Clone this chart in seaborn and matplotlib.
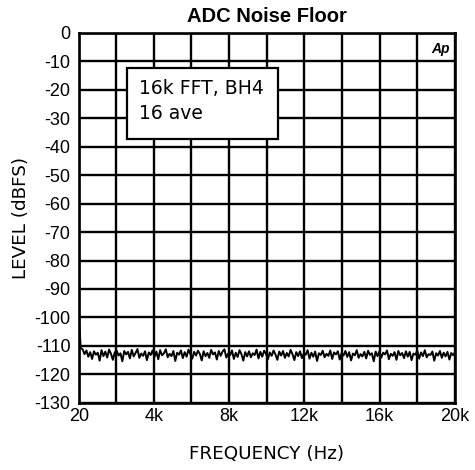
import numpy as np
import pandas as pd
import seaborn as sns
import matplotlib.pyplot as plt
from matplotlib.ticker import FixedLocator
from matplotlib.patches import Rectangle

levels = [
    -100.0, -110.8, -111.2, -112.9, -111.6, -113.8, -112.2, -114.6, -111.9, -113.1,
    -112.4, -115.2, -111.5, -113.6, -112.0, -114.1, -111.3, -112.8, -114.9, -112.3,
    -111.7, -113.4, -112.6, -115.4, -111.8, -113.0, -112.1, -114.4, -111.4, -113.7,
    -112.5, -111.1, -114.2, -112.7, -113.5, -111.9, -115.0, -112.3, -113.2, -111.6,
    -113.9, -112.0, -114.7, -111.5, -113.3, -112.6, -111.2, -114.0, -112.8, -113.6,
    -111.8, -115.3, -112.4, -113.1, -111.6, -114.3, -112.2, -113.8, -111.3, -112.9,
    -114.5, -112.1, -113.4, -111.7, -112.8, -115.1, -111.9, -113.6, -112.5, -114.2,
    -111.4, -113.0, -112.3, -114.8, -111.8, -113.5, -112.0, -111.2, -114.1, -112.7,
    -113.3, -111.6, -114.6, -112.4, -113.9, -111.5, -112.9, -115.2, -112.2, -113.7,
    -111.9, -114.0, -112.6, -113.2, -111.3, -114.4, -112.1, -113.8, -111.7, -112.8,
    -114.7, -112.3, -113.5, -111.6, -113.0, -114.9, -112.0, -113.4, -111.8, -114.2,
    -112.5, -113.7, -111.4, -112.9, -115.0, -112.2, -113.6, -111.9, -114.3, -112.7,
    -113.1, -111.5, -114.5, -112.4, -113.8, -112.0, -115.3, -112.6, -113.2, -111.7,
    -114.0, -112.8, -113.5, -111.6, -114.6, -112.3, -113.0, -111.9, -114.8, -112.5,
    -113.4, -111.8, -113.9, -112.2, -115.1, -112.7, -113.3, -111.5, -114.2, -112.9,
    -113.7, -112.1, -114.4, -111.7, -113.2, -112.6, -115.4, -112.0, -113.6, -111.9,
    -114.1, -112.4, -113.0, -111.6, -114.7, -112.8, -113.5, -112.2, -114.9, -111.8,
    -113.3, -112.5, -114.3, -111.9, -113.8, -112.1, -115.0, -112.7, -113.1, -111.7,
    -114.5, -112.3, -113.6, -111.5, -114.0, -112.9, -113.2, -112.0, -115.2, -112.6,
    -113.4, -111.8, -114.2, -112.4, -113.7, -112.1, -114.8, -112.5, -113.3, -112.2,
]
freqs = np.linspace(20, 20000, len(levels))

x_ticks = [20, 4000, 8000, 12000, 16000, 20000]
x_tick_labels = ["20", "4k", "8k", "12k", "16k", "20k"]
x_minor = [2000, 6000, 10000, 14000, 18000]
y_ticks = list(range(0, -131, -10))

df = pd.DataFrame({"freq": freqs, "level": levels})

sns.set_style("white")
plt.rcParams['font.family'] = ['Liberation Sans', 'DejaVu Sans']
plt.rcParams['text.color'] = 'black'
plt.rcParams['axes.labelcolor'] = 'black'

fig = plt.figure(figsize=(4.75, 4.70), dpi=100)
ax = fig.add_axes([0.166, 0.143, 0.792, 0.787])

sns.lineplot(data=df, x="freq", y="level", color="black", linewidth=1.4, ax=ax)

ax.set_xlim(20, 20000)
ax.set_ylim(-130, 0)
ax.xaxis.set_major_locator(FixedLocator(x_ticks))
ax.xaxis.set_minor_locator(FixedLocator(x_minor))
ax.set_xticklabels(x_tick_labels)
ax.set_yticks(y_ticks)
ax.set_yticklabels([str(v) for v in y_ticks])
ax.tick_params(axis="both", which="both", length=0, labelsize=13, colors="black")
ax.tick_params(axis="x", pad=4)
ax.tick_params(axis="y", pad=6)
ax.grid(True, which="both", color="black", linewidth=1.7)
ax.set_axisbelow(True)
for s in ax.spines.values():
    s.set_visible(True)
    s.set_color("black")
    s.set_linewidth(1.9)

ax.set_title("ADC Noise Floor", fontsize=14.5, fontweight="bold", pad=8)
ax.set_xlabel("FREQUENCY (Hz)", fontsize=13.2, family="DejaVu Sans", labelpad=14)
ax.set_ylabel("LEVEL (dBFS)", fontsize=13.2, family="DejaVu Sans", labelpad=3)

ax.add_patch(Rectangle((0.128, 0.714), 0.401, 0.191, transform=ax.transAxes,
                       facecolor="white", edgecolor="black", linewidth=1.6, zorder=5))
ax.text(0.16, 0.849, "16k FFT, BH4", transform=ax.transAxes, fontsize=13.5,
        family="DejaVu Sans", va="center", ha="left", zorder=6)
ax.text(0.16, 0.781, "16 ave", transform=ax.transAxes, fontsize=13.5,
        family="DejaVu Sans", va="center", ha="left", zorder=6)
ax.text(0.985, 0.975, "Ap", transform=ax.transAxes, fontsize=10, fontweight="bold",
        fontstyle="italic", ha="right", va="top", zorder=6)

fig.savefig("out.png", dpi=100)
